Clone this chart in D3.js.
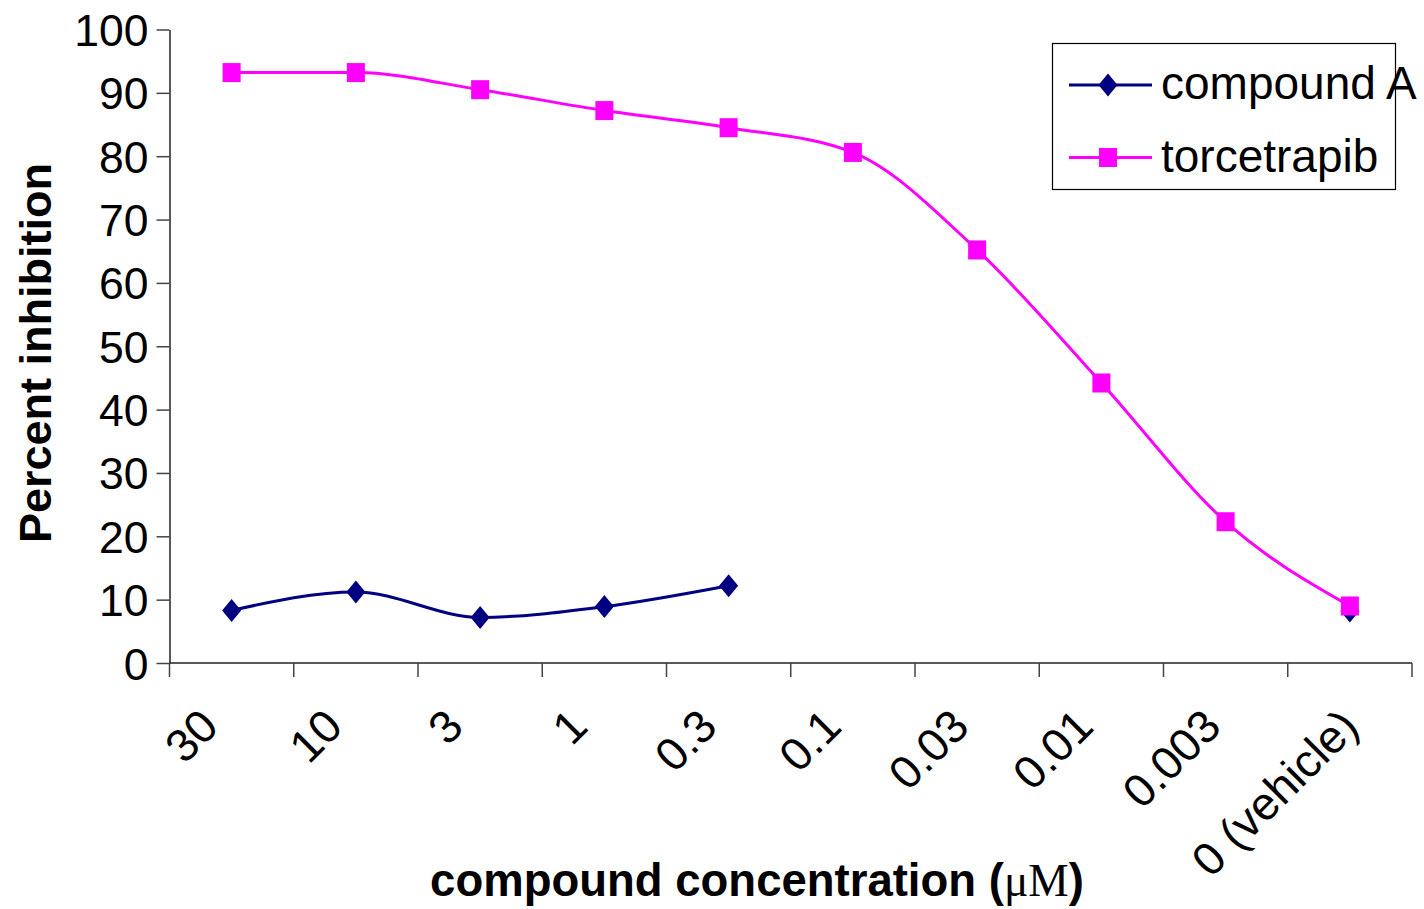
<!DOCTYPE html>
<html>
<head>
<meta charset="utf-8">
<script src="https://cdn.jsdelivr.net/npm/d3@7"></script>
<style>
  body { margin: 0; background: #fff; }
  svg { display: block; font-family: "Liberation Sans", Arial, sans-serif; }
</style>
</head>
<body>
<svg id="chart" width="1424" height="909"></svg>
<script>
// categories along the x axis (concentration, uM)
var categories = ['30', '10', '3', '1', '0.3', '0.1', '0.03', '0.01', '0.003', '0 (vehicle)'];
// percent inhibition (null = not tested)
var compoundA = [8.3, 11.2, 7.2, 8.9, 12.2, null, null, null, null, 8.2];
var torcetrapib = [93.2, 93.2, 90.5, 87.2, 84.5, 80.6, 65.2, 44.2, 22.3, 9.0];
var yTicks = [0, 10, 20, 30, 40, 50, 60, 70, 80, 90, 100];

var series = [
    {name: 'compound A', values: compoundA, color: '#000080', marker: 'diamond'},
    {name: 'torcetrapib', values: torcetrapib, color: '#FF00FF', marker: 'square'}
];

var svg = d3.select('#chart');

var x = d3.scaleBand()
    .domain(categories)
    .range([169.5, 1412])
    .padding(0);

var y = d3.scaleLinear()
    .domain([0, 100])
    .range([663, 29.5]);

function cx(c) {
    return x(c) + x.bandwidth() / 2;
}

// y axis
var yAxis = svg.append('g')
    .attr('transform', 'translate(169.5,0)')
    .call(d3.axisLeft(y).tickValues(yTicks).tickSize(13).tickSizeOuter(0).tickPadding(8));
yAxis.select('.domain').attr('stroke', '#222').attr('stroke-width', 1.5);
yAxis.selectAll('.tick line').attr('stroke', '#444').attr('stroke-width', 1.5);
yAxis.selectAll('.tick text')
    .attr('font-size', 44.5)
    .attr('font-family', '"Liberation Sans", Arial, sans-serif')
    .attr('fill', '#000')
    .attr('dy', '0.36em');

// x axis line and ticks at band boundaries
var xAxis = svg.append('g');
xAxis.append('line')
    .attr('x1', x.range()[0]).attr('x2', x.range()[1])
    .attr('y1', y(0)).attr('y2', y(0))
    .attr('stroke', '#222').attr('stroke-width', 1.5);
var bounds = categories.map(function (c) { return x(c); }).concat([x.range()[1]]);
xAxis.selectAll('line.tick')
    .data(bounds)
    .enter().append('line')
    .attr('class', 'tick')
    .attr('x1', function (d) { return d; })
    .attr('x2', function (d) { return d; })
    .attr('y1', y(0))
    .attr('y2', y(0) + 14)
    .attr('stroke', '#444').attr('stroke-width', 1.5);
// rotated labels; longer labels sit a little further right, as in the original
xAxis.selectAll('text')
    .data(categories)
    .enter().append('text')
    .attr('text-anchor', 'end')
    .attr('font-size', 46)
    .text(function (d) { return d; })
    .attr('transform', function (d) {
        var len = this.getComputedTextLength();
        return 'translate(' + (cx(d) - 18 + 0.137 * len) + ',729) rotate(-45)';
    });

// axis titles
svg.append('text')
    .attr('x', 757)
    .attr('y', 896)
    .attr('text-anchor', 'middle')
    .attr('font-size', 45.5)
    .attr('font-weight', 'bold')
    .text('compound concentration (')
    .append('tspan')
    .attr('font-family', '"Liberation Serif", "Times New Roman", serif')
    .attr('font-weight', 'normal')
    .text('\u03BCM')
    .select(function () { return this.parentNode; })
    .append('tspan')
    .text(')');

svg.append('text')
    .attr('transform', 'translate(51,353) rotate(-90)')
    .attr('text-anchor', 'middle')
    .attr('font-size', 45)
    .attr('font-weight', 'bold')
    .text('Percent inhibition');

// markers
function drawMarker(sel, type, color) {
    if (type === 'diamond') {
        sel.append('path')
            .attr('d', 'M0,-11.5L9.5,0L0,11.5L-9.5,0Z')
            .attr('fill', color);
    } else {
        sel.append('rect')
            .attr('x', -9).attr('y', -9.5)
            .attr('width', 18).attr('height', 19)
            .attr('fill', color);
    }
}

var line = d3.line()
    .defined(function (d) { return d.v !== null; })
    .x(function (d) { return cx(d.c); })
    .y(function (d) { return y(d.v); })
    .curve(d3.curveMonotoneX);

series.forEach(function (s) {
    var pts = categories.map(function (c, i) { return {c: c, v: s.values[i]}; });
    var g = svg.append('g');
    g.append('path')
        .datum(pts)
        .attr('d', line)
        .attr('fill', 'none')
        .attr('stroke', s.color)
        .attr('stroke-width', 3);
    g.selectAll('g.m')
        .data(pts.filter(function (d) { return d.v !== null; }))
        .enter().append('g')
        .attr('class', 'm')
        .attr('transform', function (d) { return 'translate(' + cx(d.c) + ',' + y(d.v) + ')'; })
        .each(function () { drawMarker(d3.select(this), s.marker, s.color); });
});

// legend
var legend = svg.append('g');
legend.append('rect')
    .attr('x', 1052.5).attr('y', 43.5)
    .attr('width', 343).attr('height', 146)
    .attr('fill', '#fff')
    .attr('stroke', '#000').attr('stroke-width', 1.2);
series.forEach(function (s, i) {
    var ly = 85 + i * 72.5;
    var item = legend.append('g');
    item.append('line')
        .attr('x1', 1069).attr('x2', 1152)
        .attr('y1', ly).attr('y2', ly)
        .attr('stroke', s.color).attr('stroke-width', 3);
    var m = item.append('g').attr('transform', 'translate(1108,' + ly + ')');
    drawMarker(m, s.marker, s.color);
    item.append('text')
        .attr('x', 1161)
        .attr('y', ly + 14)
        .attr('font-size', 46)
        .text(s.name);
});
</script>
</body>
</html>
